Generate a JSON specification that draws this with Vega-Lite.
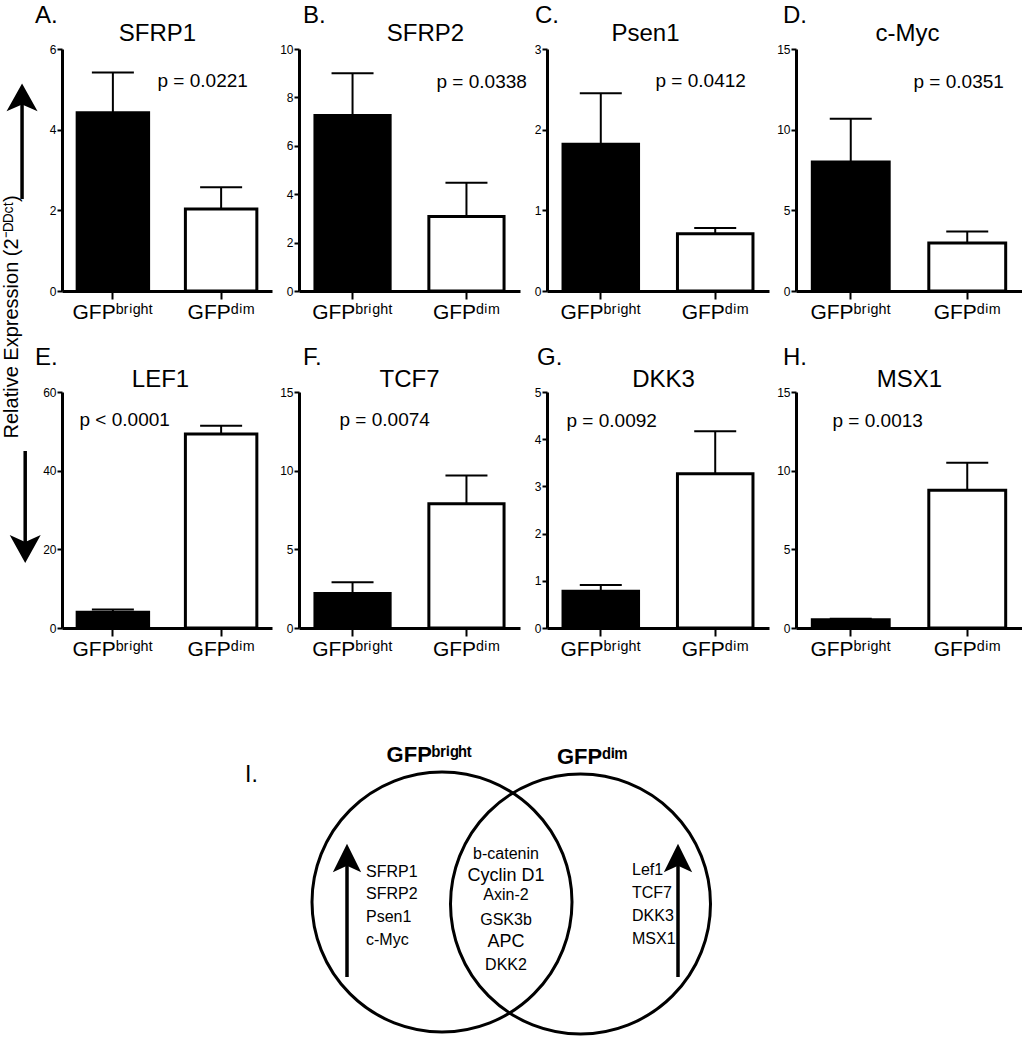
{
  "$schema": "https://vega.github.io/schema/vega-lite/v6.json",
  "padding": {"left": 0, "top": 4, "right": 0, "bottom": 0},
  "background": "white",
  "spacing": 67,
  "vconcat": [
    {
      "columns": 5,
      "align": "each",
      "bounds": "flush",
      "spacing": {"row": 101, "column": 27},
      "concat": [
        {
          "width": 35, "height": 242,
          "layer": [
            {"data": {"values": [{"x": 6.3, "y": 3.8, "y2": 8.0}]},
             "mark": {"type": "rule", "color": "black", "strokeWidth": 3.5},
             "encoding": {"x": {"field": "x", "type": "quantitative", "scale": {"domain": [0, 10], "nice": false}, "axis": null},
                          "y": {"field": "y", "type": "quantitative", "scale": {"domain": [0, 10], "nice": false}, "axis": null},
                          "y2": {"field": "y2"}}},
            {"data": {"values": [{"x": 6.3, "y": 8.0}]},
             "mark": {"type": "point", "shape": "M0,-0.9L1,0.9L0,0.45L-1,0.9Z", "filled": true, "color": "black", "opacity": 1, "size": 961},
             "encoding": {"x": {"field": "x", "type": "quantitative"}, "y": {"field": "y", "type": "quantitative"}}},
            {"data": {"values": [{"label": "Relative Expression (2⁻ᴰᴰᶜᵗ)", "x": 3.4, "y": -1.07}]},
             "mark": {"type": "text", "angle": 270, "fontSize": 20, "font": "Liberation Sans", "align": "center", "baseline": "middle", "color": "black"},
             "encoding": {"x": {"field": "x", "type": "quantitative"}, "y": {"field": "y", "type": "quantitative"}, "text": {"field": "label"}}}
          ]
        },
        {
          "width": 210, "height": 242,
          "title": {"text": "A.", "dx": -27, "offset": -7},
          "data": {"values": [{"group": "GFPbright", "mean": 4.42, "upper": 5.42}, {"group": "GFPdim", "mean": 2.03, "upper": 2.57}]},
          "encoding": {
            "x": {"field": "group", "type": "nominal", "title": "p = 0.0221", "scale": {"domain": ["GFPbright", "GFPdim"], "paddingInner": 0.34, "paddingOuter": 0.14}, "axis": {"labelExpr": "datum.value == 'GFPbright' ? 'GFPᵇʳⁱᵍʰᵗ' : 'GFPᵈⁱᵐ'", "titleX": 95, "titleY": -205}},
            "y": {"field": "mean", "type": "quantitative", "title": "SFRP1", "scale": {"domain": [0, 6], "nice": false}, "axis": {"values": [0, 2, 4, 6], "titleX": 95}}
          },
          "layer": [
            {"mark": {"type": "rule", "color": "black", "strokeWidth": 2}, "encoding": {"y2": {"field": "upper"}}},
            {"mark": {"type": "tick", "color": "black", "thickness": 2, "size": 42, "opacity": 1}, "encoding": {"y": {"field": "upper", "type": "quantitative", "title": "SFRP1"}}},
            {"mark": {"type": "bar", "stroke": "black", "strokeWidth": 3}, "encoding": {"fill": {"field": "group", "type": "nominal", "scale": {"domain": ["GFPbright", "GFPdim"], "range": ["black", "white"]}, "legend": null}}}
          ]
        },
        {
          "width": 221, "height": 242,
          "title": {"text": "B.", "dx": 4, "offset": -7},
          "data": {"values": [{"group": "GFPbright", "mean": 7.25, "upper": 9.0}, {"group": "GFPdim", "mean": 3.08, "upper": 4.47}]},
          "encoding": {
            "x": {"field": "group", "type": "nominal", "title": "p = 0.0338", "scale": {"domain": ["GFPbright", "GFPdim"], "paddingInner": 0.34, "paddingOuter": 0.14}, "axis": {"labelExpr": "datum.value == 'GFPbright' ? 'GFPᵇʳⁱᵍʰᵗ' : 'GFPᵈⁱᵐ'", "titleX": 137, "titleY": -204}},
            "y": {"field": "mean", "type": "quantitative", "title": "SFRP2", "scale": {"domain": [0, 10], "nice": false}, "axis": {"values": [0, 2, 4, 6, 8, 10], "titleX": 126}}
          },
          "layer": [
            {"mark": {"type": "rule", "color": "black", "strokeWidth": 2}, "encoding": {"y2": {"field": "upper"}}},
            {"mark": {"type": "tick", "color": "black", "thickness": 2, "size": 42, "opacity": 1}, "encoding": {"y": {"field": "upper", "type": "quantitative", "title": "SFRP2"}}},
            {"mark": {"type": "bar", "stroke": "black", "strokeWidth": 3}, "encoding": {"fill": {"field": "group", "type": "nominal", "scale": {"domain": ["GFPbright", "GFPdim"], "range": ["black", "white"]}, "legend": null}}}
          ]
        },
        {
          "width": 222, "height": 242,
          "title": {"text": "C.", "dx": -12, "offset": -7},
          "data": {"values": [{"group": "GFPbright", "mean": 1.82, "upper": 2.45}, {"group": "GFPdim", "mean": 0.71, "upper": 0.78}]},
          "encoding": {
            "x": {"field": "group", "type": "nominal", "title": "p = 0.0412", "scale": {"domain": ["GFPbright", "GFPdim"], "paddingInner": 0.34, "paddingOuter": 0.14}, "axis": {"labelExpr": "datum.value == 'GFPbright' ? 'GFPᵇʳⁱᵍʰᵗ' : 'GFPᵈⁱᵐ'", "titleX": 108, "titleY": -205}},
            "y": {"field": "mean", "type": "quantitative", "title": "Psen1", "scale": {"domain": [0, 3], "nice": false}, "axis": {"values": [0, 1, 2, 3], "titleX": 98}}
          },
          "layer": [
            {"mark": {"type": "rule", "color": "black", "strokeWidth": 2}, "encoding": {"y2": {"field": "upper"}}},
            {"mark": {"type": "tick", "color": "black", "thickness": 2, "size": 42, "opacity": 1}, "encoding": {"y": {"field": "upper", "type": "quantitative", "title": "Psen1"}}},
            {"mark": {"type": "bar", "stroke": "black", "strokeWidth": 3}, "encoding": {"fill": {"field": "group", "type": "nominal", "scale": {"domain": ["GFPbright", "GFPdim"], "range": ["black", "white"]}, "legend": null}}}
          ]
        },
        {
          "width": 226, "height": 242,
          "title": {"text": "D.", "dx": -13, "offset": -7},
          "data": {"values": [{"group": "GFPbright", "mean": 8.0, "upper": 10.67}, {"group": "GFPdim", "mean": 2.98, "upper": 3.69}]},
          "encoding": {
            "x": {"field": "group", "type": "nominal", "title": "p = 0.0351", "scale": {"domain": ["GFPbright", "GFPdim"], "paddingInner": 0.34, "paddingOuter": 0.14}, "axis": {"labelExpr": "datum.value == 'GFPbright' ? 'GFPᵇʳⁱᵍʰᵗ' : 'GFPᵈⁱᵐ'", "titleX": 117, "titleY": -204}},
            "y": {"field": "mean", "type": "quantitative", "title": "c-Myc", "scale": {"domain": [0, 15], "nice": false}, "axis": {"values": [0, 5, 10, 15], "titleX": 111}}
          },
          "layer": [
            {"mark": {"type": "rule", "color": "black", "strokeWidth": 2}, "encoding": {"y2": {"field": "upper"}}},
            {"mark": {"type": "tick", "color": "black", "thickness": 2, "size": 42, "opacity": 1}, "encoding": {"y": {"field": "upper", "type": "quantitative", "title": "c-Myc"}}},
            {"mark": {"type": "bar", "stroke": "black", "strokeWidth": 3}, "encoding": {"fill": {"field": "group", "type": "nominal", "scale": {"domain": ["GFPbright", "GFPdim"], "range": ["black", "white"]}, "legend": null}}}
          ]
        },
        {
          "width": 35, "height": 236,
          "layer": [
            {"data": {"values": [{"x": 7.2, "y": 7.5, "y2": 3.35}]},
             "mark": {"type": "rule", "color": "black", "strokeWidth": 3.5},
             "encoding": {"x": {"field": "x", "type": "quantitative", "scale": {"domain": [0, 10], "nice": false}, "axis": null},
                          "y": {"field": "y", "type": "quantitative", "scale": {"domain": [0, 10], "nice": false}, "axis": null},
                          "y2": {"field": "y2"}}},
            {"data": {"values": [{"x": 7.2, "y": 3.35}]},
             "mark": {"type": "point", "shape": "M0,0.9L1,-0.9L0,-0.45L-1,-0.9Z", "filled": true, "color": "black", "opacity": 1, "size": 961},
             "encoding": {"x": {"field": "x", "type": "quantitative"}, "y": {"field": "y", "type": "quantitative"}}}
          ]
        },
        {
          "width": 210, "height": 236,
          "title": {"text": "E.", "dx": -27},
          "data": {"values": [{"group": "GFPbright", "mean": 4.0, "upper": 4.7}, {"group": "GFPdim", "mean": 49.3, "upper": 51.4}]},
          "encoding": {
            "x": {"field": "group", "type": "nominal", "title": "p < 0.0001", "scale": {"domain": ["GFPbright", "GFPdim"], "paddingInner": 0.34, "paddingOuter": 0.14}, "axis": {"labelExpr": "datum.value == 'GFPbright' ? 'GFPᵇʳⁱᵍʰᵗ' : 'GFPᵈⁱᵐ'", "titleX": 17, "titleY": -203}},
            "y": {"field": "mean", "type": "quantitative", "title": "LEF1", "scale": {"domain": [0, 60], "nice": false}, "axis": {"values": [0, 20, 40, 60], "titleX": 98, "titleY": -6}}
          },
          "layer": [
            {"mark": {"type": "rule", "color": "black", "strokeWidth": 2}, "encoding": {"y2": {"field": "upper"}}},
            {"mark": {"type": "tick", "color": "black", "thickness": 2, "size": 42, "opacity": 1}, "encoding": {"y": {"field": "upper", "type": "quantitative", "title": "LEF1"}}},
            {"mark": {"type": "bar", "stroke": "black", "strokeWidth": 3}, "encoding": {"fill": {"field": "group", "type": "nominal", "scale": {"domain": ["GFPbright", "GFPdim"], "range": ["black", "white"]}, "legend": null}}}
          ]
        },
        {
          "width": 221, "height": 236,
          "title": {"text": "F.", "dx": 4},
          "data": {"values": [{"group": "GFPbright", "mean": 2.2, "upper": 2.9}, {"group": "GFPdim", "mean": 7.9, "upper": 9.7}]},
          "encoding": {
            "x": {"field": "group", "type": "nominal", "title": "p = 0.0074", "scale": {"domain": ["GFPbright", "GFPdim"], "paddingInner": 0.34, "paddingOuter": 0.14}, "axis": {"labelExpr": "datum.value == 'GFPbright' ? 'GFPᵇʳⁱᵍʰᵗ' : 'GFPᵈⁱᵐ'", "titleX": 40, "titleY": -203}},
            "y": {"field": "mean", "type": "quantitative", "title": "TCF7", "scale": {"domain": [0, 15], "nice": false}, "axis": {"values": [0, 5, 10, 15], "titleX": 110, "titleY": -6}}
          },
          "layer": [
            {"mark": {"type": "rule", "color": "black", "strokeWidth": 2}, "encoding": {"y2": {"field": "upper"}}},
            {"mark": {"type": "tick", "color": "black", "thickness": 2, "size": 42, "opacity": 1}, "encoding": {"y": {"field": "upper", "type": "quantitative", "title": "TCF7"}}},
            {"mark": {"type": "bar", "stroke": "black", "strokeWidth": 3}, "encoding": {"fill": {"field": "group", "type": "nominal", "scale": {"domain": ["GFPbright", "GFPdim"], "range": ["black", "white"]}, "legend": null}}}
          ]
        },
        {
          "width": 222, "height": 236,
          "title": {"text": "G.", "dx": -10},
          "data": {"values": [{"group": "GFPbright", "mean": 0.78, "upper": 0.91}, {"group": "GFPdim", "mean": 3.27, "upper": 4.17}]},
          "encoding": {
            "x": {"field": "group", "type": "nominal", "title": "p = 0.0092", "scale": {"domain": ["GFPbright", "GFPdim"], "paddingInner": 0.34, "paddingOuter": 0.14}, "axis": {"labelExpr": "datum.value == 'GFPbright' ? 'GFPᵇʳⁱᵍʰᵗ' : 'GFPᵈⁱᵐ'", "titleX": 19, "titleY": -202}},
            "y": {"field": "mean", "type": "quantitative", "title": "DKK3", "scale": {"domain": [0, 5], "nice": false}, "axis": {"values": [0, 1, 2, 3, 4, 5], "titleX": 116, "titleY": -6}}
          },
          "layer": [
            {"mark": {"type": "rule", "color": "black", "strokeWidth": 2}, "encoding": {"y2": {"field": "upper"}}},
            {"mark": {"type": "tick", "color": "black", "thickness": 2, "size": 42, "opacity": 1}, "encoding": {"y": {"field": "upper", "type": "quantitative", "title": "DKK3"}}},
            {"mark": {"type": "bar", "stroke": "black", "strokeWidth": 3}, "encoding": {"fill": {"field": "group", "type": "nominal", "scale": {"domain": ["GFPbright", "GFPdim"], "range": ["black", "white"]}, "legend": null}}}
          ]
        },
        {
          "width": 226, "height": 236,
          "title": {"text": "H.", "dx": -13},
          "data": {"values": [{"group": "GFPbright", "mean": 0.52, "upper": 0.58}, {"group": "GFPdim", "mean": 8.75, "upper": 10.5}]},
          "encoding": {
            "x": {"field": "group", "type": "nominal", "title": "p = 0.0013", "scale": {"domain": ["GFPbright", "GFPdim"], "paddingInner": 0.34, "paddingOuter": 0.14}, "axis": {"labelExpr": "datum.value == 'GFPbright' ? 'GFPᵇʳⁱᵍʰᵗ' : 'GFPᵈⁱᵐ'", "titleX": 36, "titleY": -202}},
            "y": {"field": "mean", "type": "quantitative", "title": "MSX1", "scale": {"domain": [0, 15], "nice": false}, "axis": {"values": [0, 5, 10, 15], "titleX": 113, "titleY": -6}}
          },
          "layer": [
            {"mark": {"type": "rule", "color": "black", "strokeWidth": 2}, "encoding": {"y2": {"field": "upper"}}},
            {"mark": {"type": "tick", "color": "black", "thickness": 2, "size": 42, "opacity": 1}, "encoding": {"y": {"field": "upper", "type": "quantitative", "title": "MSX1"}}},
            {"mark": {"type": "bar", "stroke": "black", "strokeWidth": 3}, "encoding": {"fill": {"field": "group", "type": "nominal", "scale": {"domain": ["GFPbright", "GFPdim"], "range": ["black", "white"]}, "legend": null}}}
          ]
        }
      ]
    },
    {
      "width": 1000, "height": 310,
      "layer": [
        {"data": {"values": [{"set": "GFPbright", "x": 44.2, "y": 13.4}, {"set": "GFPdim", "x": 58.05, "y": 13.2}]},
         "mark": {"type": "point", "shape": "circle", "filled": false, "stroke": "black", "strokeWidth": 3, "opacity": 1, "size": 67600},
         "encoding": {"x": {"field": "x", "type": "quantitative", "scale": {"domain": [0, 100], "nice": false}, "axis": null},
                      "y": {"field": "y", "type": "quantitative", "scale": {"domain": [0, 31], "nice": false}, "axis": null}}},
        {"data": {"values": [{"set": "GFPbright", "x": 34.7, "y": 5.9, "y2": 17.8}, {"set": "GFPdim", "x": 67.8, "y": 5.9, "y2": 17.8}]},
         "mark": {"type": "rule", "color": "black", "strokeWidth": 3.5},
         "encoding": {"x": {"field": "x", "type": "quantitative"}, "y": {"field": "y", "type": "quantitative"}, "y2": {"field": "y2"}}},
        {"data": {"values": [{"set": "GFPbright", "x": 34.7, "y": 17.8}, {"set": "GFPdim", "x": 67.8, "y": 17.8}]},
         "mark": {"type": "point", "shape": "M0,-1L1,1L0,0.55L-1,1Z", "filled": true, "color": "black", "opacity": 1, "size": 800},
         "encoding": {"x": {"field": "x", "type": "quantitative"}, "y": {"field": "y", "type": "quantitative"}}},
        {"data": {"values": [{"label": "I.", "x": 24.5, "y": 25.4}]},
         "mark": {"type": "text", "align": "left", "baseline": "alphabetic", "fontSize": 23, "font": "Liberation Sans", "color": "black"},
         "encoding": {"x": {"field": "x", "type": "quantitative"}, "y": {"field": "y", "type": "quantitative"}, "text": {"field": "label"}}},
        {"data": {"values": [{"label": "GFPᵇʳⁱᵍʰᵗ", "x": 42.9, "y": 27.4}, {"label": "GFPᵈⁱᵐ", "x": 59.2, "y": 27.2}]},
         "mark": {"type": "text", "align": "center", "baseline": "alphabetic", "fontSize": 22, "fontWeight": "bold", "font": "Liberation Sans", "color": "black"},
         "encoding": {"x": {"field": "x", "type": "quantitative"}, "y": {"field": "y", "type": "quantitative"}, "text": {"field": "label"}}},
        {"data": {"values": [
            {"label": "SFRP1", "x": 36.6, "y": 15.9}, {"label": "SFRP2", "x": 36.6, "y": 13.7},
            {"label": "Psen1", "x": 36.6, "y": 11.4}, {"label": "c-Myc", "x": 36.6, "y": 9.1},
            {"label": "Lef1", "x": 63.2, "y": 16.1}, {"label": "TCF7", "x": 63.2, "y": 13.8},
            {"label": "DKK3", "x": 63.2, "y": 11.5}, {"label": "MSX1", "x": 63.2, "y": 9.2}]},
         "mark": {"type": "text", "align": "left", "baseline": "alphabetic", "fontSize": 16, "font": "Liberation Sans", "color": "black"},
         "encoding": {"x": {"field": "x", "type": "quantitative"}, "y": {"field": "y", "type": "quantitative"}, "text": {"field": "label"}}},
        {"data": {"values": [
            {"label": "b-catenin", "x": 50.6, "y": 17.7}, {"label": "Axin-2", "x": 50.6, "y": 13.6},
            {"label": "GSK3b", "x": 50.6, "y": 11.1}, {"label": "DKK2", "x": 50.6, "y": 6.6}]},
         "mark": {"type": "text", "align": "center", "baseline": "alphabetic", "fontSize": 16, "font": "Liberation Sans", "color": "black"},
         "encoding": {"x": {"field": "x", "type": "quantitative"}, "y": {"field": "y", "type": "quantitative"}, "text": {"field": "label"}}},
        {"data": {"values": [{"label": "Cyclin D1", "x": 50.6, "y": 15.5}, {"label": "APC", "x": 50.6, "y": 8.9}]},
         "mark": {"type": "text", "align": "center", "baseline": "alphabetic", "fontSize": 18, "font": "Liberation Sans", "color": "black"},
         "encoding": {"x": {"field": "x", "type": "quantitative"}, "y": {"field": "y", "type": "quantitative"}, "text": {"field": "label"}}}
      ]
    }
  ],
  "config": {
    "view": {"stroke": null},
    "font": "Liberation Sans",
    "title": {"anchor": "start", "frame": "group", "fontSize": 24, "fontWeight": "normal", "font": "Liberation Sans", "color": "black", "offset": -3},
    "axis": {"grid": false, "domainColor": "black", "tickColor": "black", "labelColor": "black", "titleColor": "black", "domainWidth": 3, "tickWidth": 2},
    "axisX": {"tickSize": 8, "labelFontSize": 21, "labelPadding": 2, "labelAngle": 0, "labelFont": "Liberation Sans", "titleFontSize": 19, "titleFontWeight": "normal", "titleFont": "Liberation Sans", "titleAlign": "left", "titleBaseline": "alphabetic", "titleAngle": 0},
    "axisY": {"tickSize": 5, "labelFontSize": 12, "labelPadding": 1, "labelFont": "Liberation Sans", "titleAngle": 0, "titleAlign": "center", "titleBaseline": "alphabetic", "titleFontSize": 24, "titleFontWeight": "normal", "titleFont": "Liberation Sans", "titleY": -9}
  }
}
